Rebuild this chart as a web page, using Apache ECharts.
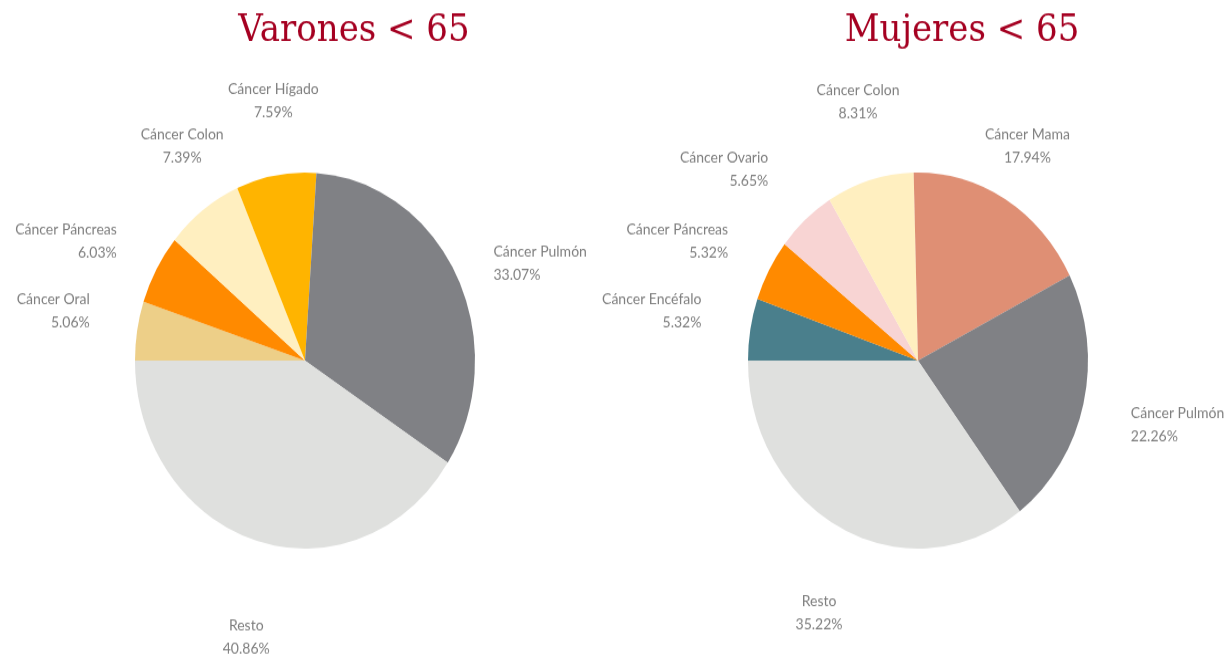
<!DOCTYPE html>
<html><head><meta charset="utf-8">
<script src="https://cdn.jsdelivr.net/npm/echarts@6/dist/echarts.min.js"></script>
<style>
html,body{margin:0;padding:0;background:#fff;overflow:hidden;width:1230px;height:656px}
#wrap{width:1230px;height:656px;overflow:hidden}
#chart{width:1230px;height:593px;transform:scaleY(1.106);transform-origin:0 0}
</style>
</head><body><div id="wrap"><div id="chart"></div></div>
<script>
// ---- data ----
const titles = ['Varones < 65', 'Mujeres < 65'];
const menCategories = ['Cáncer Oral', 'Cáncer Páncreas', 'Cáncer Colon', 'Cáncer Hígado', 'Cáncer Pulmón', 'Resto'];
const menValues = [5.06, 6.03, 7.39, 7.59, 33.07, 40.86];
const womenCategories = ['Cáncer Encéfalo', 'Cáncer Páncreas', 'Cáncer Ovario', 'Cáncer Colon', 'Cáncer Mama', 'Cáncer Pulmón', 'Resto'];
const womenValues = [5.32, 5.32, 5.65, 8.31, 17.94, 22.26, 35.22];

// ---- styles ----
const menColors = ['#EDCF88', '#FF8A00', '#FFEFC0', '#FFB400', '#808185', '#DFE0DE'];
const womenColors = ['#4A7F8C', '#FF8A00', '#F8D4D3', '#FFEFC0', '#DF8F74', '#808185', '#DFE0DE'];
const START = 180;
const RADIUS = 170;
const centers = [[305, 326], [918, 326]];
const titleX = [354, 962];
const menGaps = [46, 40, 21, 43, 32, 63];
const womenGaps = [48, 41, 48, 45, 16, 47, 51];
// fine label nudges [dx, dy]
const menNudge = [[0, -4.5], [-9, 20], [15, -10], [9, 0], [10, 25], [14, 3.6]];
const womenNudge = [[0, 0], [-9, 19], [-21, 22.6], [9, 0], [-5, -2], [0, -2.7], [12, 6.3]];

function makeLabelLayout(values, center, gaps, nudge) {
  const total = values.reduce((a, b) => a + b, 0);
  return function (p) {
    const i = p.dataIndex;
    let before = 0;
    for (let k = 0; k < i; k++) before += values[k];
    const ang = (START - (before + values[i] / 2) / total * 360) * Math.PI / 180;
    const dx = Math.cos(ang), dy = -Math.sin(ang);
    const hw = p.labelRect.width / 2, hh = 18;
    const dist = RADIUS + gaps[i] + Math.abs(dx) * hw + Math.abs(dy) * hh;
    const px = center[0] + dx * dist + nudge[i][0], py = center[1] + dy * dist + nudge[i][1];
    let align = 'center', x = px;
    if (dx > 0.63) { align = 'left'; x = px - hw; }
    else if (dx < -0.63) { align = 'right'; x = px + hw; }
    return { x: x, y: py, align: align, verticalAlign: 'middle' };
  };
}

function pieSeries(cats, vals, colors, center, gaps, nudge) {
  return {
    type: 'pie',
    center: center,
    radius: RADIUS,
    startAngle: START,
    clockwise: true,
    avoidLabelOverlap: false,
    animation: false,
    silent: true,
    data: cats.map((c, i) => ({ name: c, value: vals[i], itemStyle: { color: colors[i] } })),
    itemStyle: { borderWidth: 0 },
    label: {
      show: true,
      position: 'outside',
      formatter: p => p.name + '\n' + p.value.toFixed(2) + '%',
      color: '#7F7F7F',
      fontFamily: 'Lato',
      fontSize: 14,
      lineHeight: 21
    },
    labelLine: { show: false },
    labelLayout: makeLabelLayout(vals, center, gaps, nudge)
  };
}

const chart = echarts.init(document.getElementById('chart'), null, { renderer: 'canvas' });
chart.setOption({
  backgroundColor: '#ffffff',
  graphic: titles.map((t, i) => ({
    type: 'text',
    x: titleX[i],
    y: 28,
    style: {
      text: t,
      fill: '#A50021',
      font: '34px "DejaVu Serif"',
      textAlign: 'center',
      textVerticalAlign: 'middle'
    }
  })),
  series: [
    pieSeries(menCategories, menValues, menColors, centers[0], menGaps, menNudge),
    pieSeries(womenCategories, womenValues, womenColors, centers[1], womenGaps, womenNudge)
  ]
});
</script>
</body></html>
